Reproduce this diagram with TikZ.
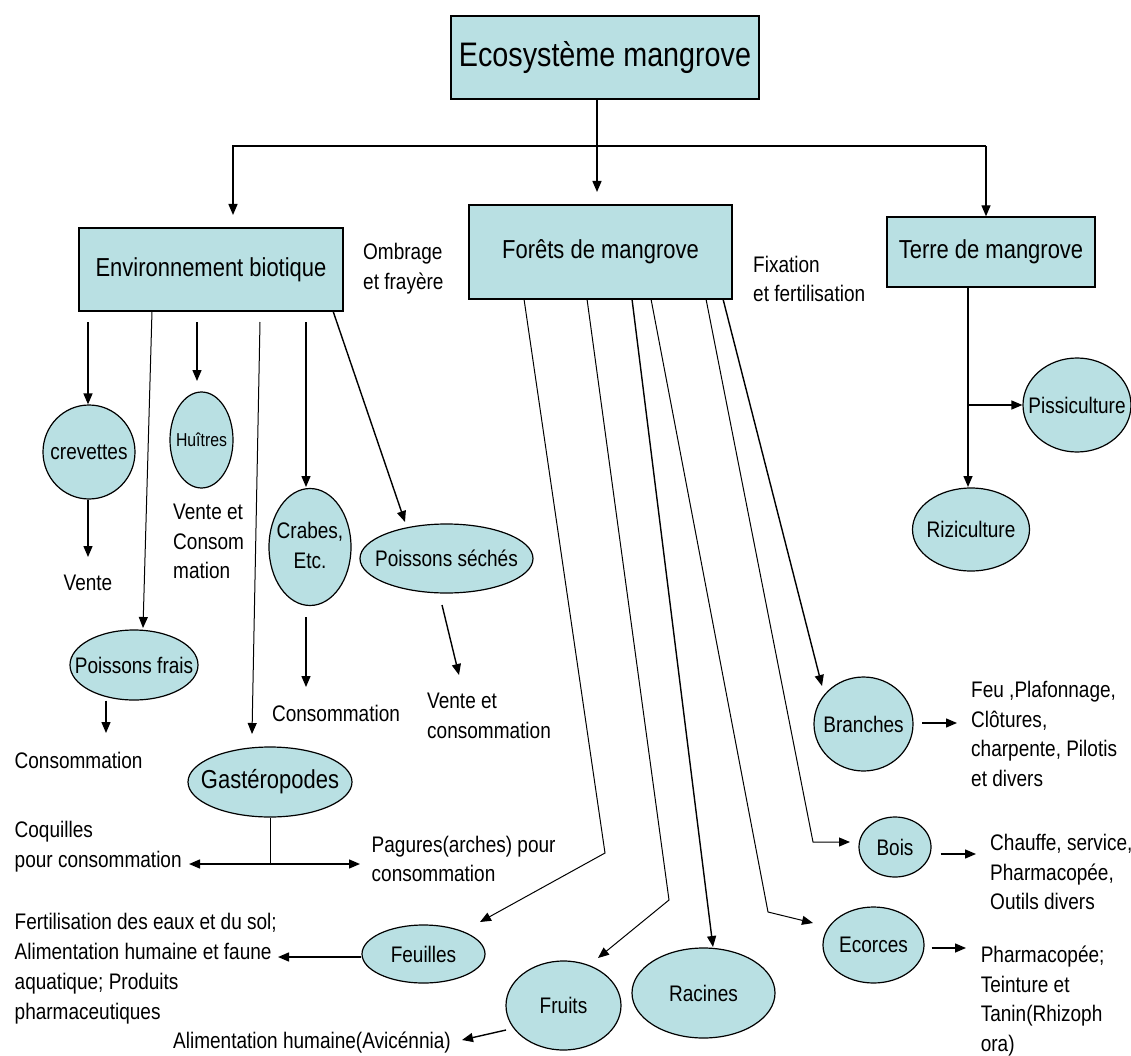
\documentclass[tikz,border=0pt]{standalone}
\usepackage{fontspec}
\setmainfont[FakeStretch=0.845]{Liberation Sans}
\usetikzlibrary{arrows.meta,shapes.geometric}
\definecolor{fillc}{RGB}{185,224,227}
\newcommand\ctr[1]{\makebox[0pt]{#1}}
\begin{document}
\begin{tikzpicture}[x=1pt,y=-1pt,
 box/.style={draw=black, line width=1.4pt, fill=fillc, inner sep=0pt, font=\fontsize{26}{30}\selectfont},
 oval/.style={ellipse, draw=black, line width=1.2pt, fill=fillc, inner sep=0pt, font=\fontsize{22.5}{30}\selectfont},
 lbl/.style={inner sep=0pt, align=left, font=\fontsize{22.5}{29.5}\selectfont},
 arr/.style={line width=1.4pt, -{Triangle[length=11pt,width=9pt]}},
 tarr/.style={line width=1pt, -{Triangle[length=11pt,width=9pt]}},
 darr/.style={line width=1.4pt, {Triangle[length=11pt,width=9pt]}-{Triangle[length=11pt,width=9pt]}},
 ln/.style={line width=1.4pt},
 tln/.style={line width=1pt}
]
\useasboundingbox (0,0) rectangle (1131,1056);

% ---------- boxes ----------
\node[box, minimum width=308pt, minimum height=83pt, font=\fontsize{34}{38}\selectfont] (title) at (605,57.5) {Ecosystème mangrove};
\node[box, minimum width=264pt, minimum height=83pt] (env) at (211,269.5) {Environnement biotique};
\node[box, minimum width=263pt, minimum height=94pt] (forets) at (600.5,252) {Forêts de mangrove};
\node[box, minimum width=208pt, minimum height=70pt] (terre) at (991,252) {Terre de mangrove};

% ---------- ellipses ----------
\node[oval, minimum width=92pt, minimum height=94pt] (crev) at (89,452) {\ctr{crevettes}};
\node[oval, minimum width=63pt, minimum height=96pt, font=\fontsize{18.7}{22}\selectfont] (huit) at (201.5,440) {\ctr{Huîtres}};
\node[oval, minimum width=82pt, minimum height=117pt] (crabes) at (310,547) {\ctr{\begin{tabular}{@{}c@{}}Crabes,\\Etc.\end{tabular}}};
\node[oval, minimum width=173pt, minimum height=69pt] (psech) at (446.5,558.5) {\ctr{Poissons séchés}};
\node[oval, minimum width=128pt, minimum height=70pt] (pfrais) at (134,665) {\ctr{Poissons frais}};
\node[oval, minimum width=164pt, minimum height=70pt, font=\fontsize{26}{30}\selectfont] (gast) at (270,782) {\ctr{Gastéropodes}};
\node[oval, minimum width=108pt, minimum height=94pt] (pisci) at (1077,405) {\ctr{Pissiculture}};
\node[oval, minimum width=117pt, minimum height=83pt] (rizi) at (971,529.5) {\ctr{Riziculture}};
\node[oval, minimum width=99pt, minimum height=94pt] (branches) at (863.5,724) {\ctr{Branches}};
\node[oval, minimum width=72pt, minimum height=60pt] (bois) at (895,847) {\ctr{Bois}};
\node[oval, minimum width=101pt, minimum height=76pt] (ecorces) at (873.5,945) {\ctr{Ecorces}};
\node[oval, minimum width=123pt, minimum height=58pt] (feuilles) at (423.5,954) {\ctr{Feuilles}};
\node[oval, minimum width=115pt, minimum height=89pt] (fruits) at (563.5,1005.5) {\ctr{Fruits}};
\node[oval, minimum width=143pt, minimum height=90pt] (racines) at (703.5,993) {\ctr{Racines}};

% ---------- labels ----------
\node[lbl, anchor=west] (ombrage) at (363,268.5) {Ombrage\\et frayère};
\node[lbl, anchor=west] (fixation) at (753,279) {Fixation\\et fertilisation};
\node[lbl] (vente) at (88,583) {Vente};
\node[lbl, anchor=west] (vhuit) at (173,541.5) {Vente et\\Consom\\mation};
\node[lbl] (ccrabes) at (336,713) {Consommation};
\node[lbl, anchor=west] (vpsech) at (427,716) {Vente et\\consommation};
\node[lbl, anchor=west] (cpfrais) at (14.5,760) {Consommation};
\node[lbl, anchor=west] (coq) at (14.5,846.5) {Coquilles\\pour consommation};
\node[lbl, anchor=west] (pag) at (371.5,859) {Pagures(arches) pour\\consommation};
\node[lbl, anchor=west, font=\fontsize{22.5}{30}\selectfont] (fert) at (14.5,968.5) {Fertilisation des eaux et du sol;\\Alimentation humaine et faune\\aquatique; Produits\\pharmaceutiques};
\node[lbl] (alim) at (312,1043) {Alimentation humaine(Avicénnia)};
\node[lbl, anchor=west] (feu) at (971,734) {Feu ,Plafonnage,\\Clôtures,\\charpente, Pilotis\\et divers};
\node[lbl, anchor=west] (chauffe) at (990,872) {Chauffe, service,\\Pharmacopée,\\Outils divers};
\node[lbl, anchor=west] (pharma) at (980.6,1001) {Pharmacopée;\\Teinture et\\Tanin(Rhizoph\\ora)};

% ---------- top connectors ----------
\coordinate (tF) at (597,192);
\coordinate (hl) at (233,146);
\coordinate (hr) at (986,146);
\coordinate (tE) at (233,215);
\draw[arr] (title.south -| tF) -- (tF);
\draw[arr] (hr) -- (hl) -- (tE);
\draw[arr] (hr) -- (terre.north -| hr);

% ---------- environnement biotique ----------
\coordinate (e1) at (88,322);
\coordinate (e2) at (152,311);
\coordinate (t2) at (143,628);
\coordinate (e3) at (197,322);
\coordinate (t3) at (197,381);
\coordinate (e4) at (260,322);
\coordinate (t4) at (252,734);
\coordinate (e5) at (306,322);
\coordinate (t5) at (306,487);
\coordinate (e6) at (333,311);
\coordinate (t6) at (405,522);
\draw[arr] (e1) -- (crev.north -| e1);
\draw[tarr] (e2) -- (t2);
\draw[arr] (e3) -- (t3);
\draw[tarr] (e4) -- (t4);
\draw[arr] (e5) -- (t5);
\draw[arr] (e6) -- (t6);

\coordinate (v1) at (88,557);
\draw[arr] (crev.south -| v1) -- (v1);
\coordinate (c1) at (306,617);
\coordinate (c2) at (306,687);
\draw[arr] (c1) -- (c2);
\coordinate (s1) at (442,605);
\coordinate (s2) at (459,675);
\draw[arr] (s1) -- (s2);
\coordinate (p1) at (106,733);
\draw[arr] (pfrais.south -| p1) -- (p1);
\coordinate (g1) at (270,864);
\coordinate (gl) at (189,864);
\coordinate (gr) at (360,864);
\draw[tln] (gast.south) -- (g1);
\draw[darr] (gl) -- (gr);

% ---------- forets ----------
\coordinate (f1) at (524,299);
\coordinate (f2) at (587,299);
\coordinate (f3) at (632,299);
\coordinate (f4) at (651,299);
\coordinate (f5) at (706,299);
\coordinate (f6) at (723,299);
\coordinate (k1) at (605,853);
\coordinate (k2) at (669,900);
\coordinate (k4) at (768,912);
\coordinate (k5) at (813,842);
\coordinate (tf1) at (480,922);
\coordinate (tf2) at (598,958);
\coordinate (tf3) at (713,947);
\coordinate (tf4) at (813,923);
\coordinate (tf5) at (850,842);
\coordinate (tf6) at (822,686);
\draw[tarr] (f1) -- (k1) -- (tf1);
\draw[tarr] (f2) -- (k2) -- (tf2);
\draw[arr] (f3) -- (tf3);
\draw[tarr] (f4) -- (k4) -- (tf4);
\draw[tarr] (f5) -- (k5) -- (tf5);
\draw[arr] (f6) -- (tf6);

\coordinate (fe) at (278,957);
\draw[arr] (feuilles.west |- fe) -- (fe);
\coordinate (fr1) at (506,1030);
\coordinate (fr2) at (462,1040);
\draw[arr] (fr1) -- (fr2);
\coordinate (b1) at (922,723);
\coordinate (b2) at (957,723);
\draw[arr] (b1) -- (b2);
\coordinate (bo1) at (940.5,854);
\coordinate (bo2) at (976,854);
\draw[arr] (bo1) -- (bo2);
\coordinate (ec1) at (931.5,948);
\coordinate (ec2) at (966,948);
\draw[arr] (ec1) -- (ec2);

% ---------- terre ----------
\coordinate (g0) at (968,287);
\coordinate (gb) at (968,405);
\coordinate (gt) at (968,487);
\draw[arr] (g0) -- (gt);
\draw[arr] (gb) -- (pisci.west |- gb);
\end{tikzpicture}
\end{document}
